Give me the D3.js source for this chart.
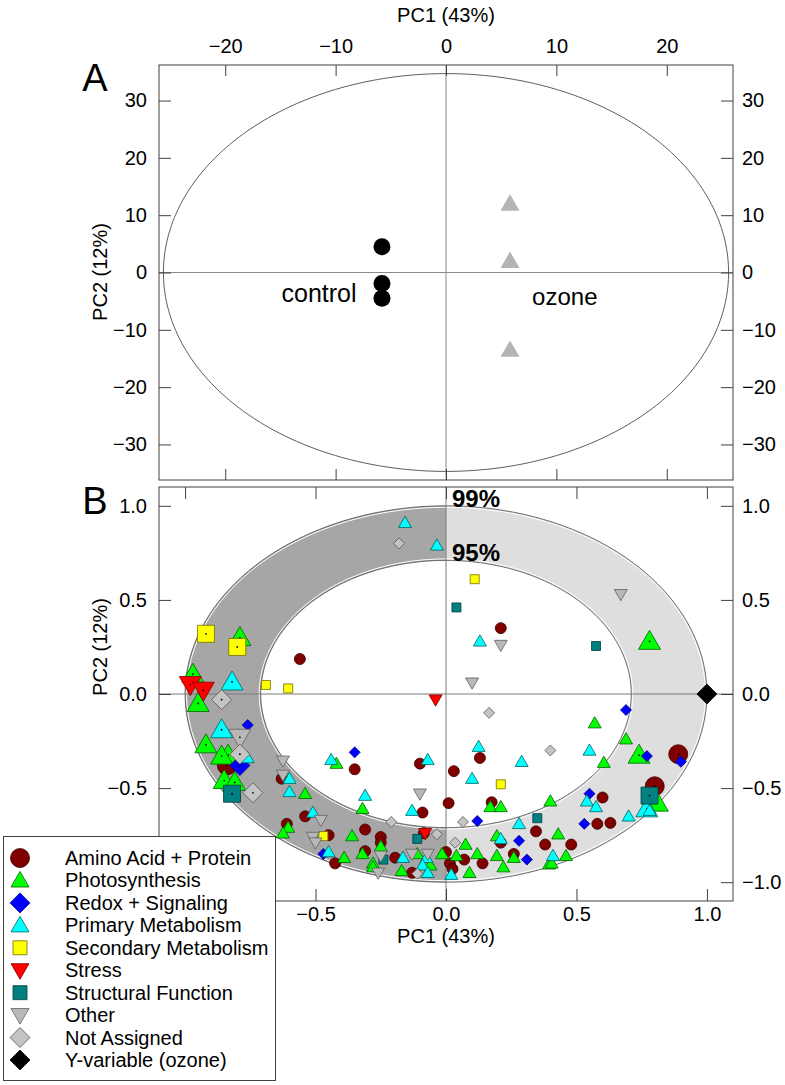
<!DOCTYPE html>
<html><head><meta charset="utf-8">
<script src="https://cdn.jsdelivr.net/npm/d3@7"></script>
<style>body{margin:0;background:#fff;} text{font-family:"Liberation Sans",Arial,sans-serif;fill:#000;}</style>
</head><body><svg id="c" width="785" height="1085"></svg>
<script>
// ---------- DATA ----------
const controlPC1 = [-5.8, -5.8, -5.8];
const controlPC2 = [4.5, -1.9, -4.5];
const ozonePC1 = [5.8, 5.8, 5.8];
const ozonePC2 = [12, 2, -13.5];
const scoreEllipseRadii = [25.6, 34.7];
const ticksAx = [-20, -10, 0, 10, 20];
const ticksAy = [-30, -20, -10, 0, 10, 20, 30];
const ticksB = [-1.0, -0.5, 0.0, 0.5, 1.0];
const confidenceRadii = [1.0, 0.71];
const confidenceLabels = ["99%", "95%"];
const categories = ["Amino Acid + Protein","Photosynthesis","Redox + Signaling","Primary Metabolism",
  "Secondary Metabolism","Stress","Structural Function","Other","Not Assigned","Y-variable (ozone)"];
// loadings [PC1, PC2, highlighted(1)/normal(0)]
const aminoAcid = [[-0.56,0.186,0],[0.21,0.35,0],[-0.84,-0.38,1],[-0.63,-0.45,0],[-0.35,-0.40,0],[-0.10,-0.37,0],
  [-0.09,-0.63,0],[0.01,-0.58,0],[-0.54,-0.65,0],[-0.61,-0.69,0],[-0.31,-0.72,0],[-0.45,-0.75,0],[-0.25,-0.76,0],
  [-0.25,-0.79,0],[-0.085,-0.74,0],[-0.425,-0.90,0],[-0.31,-0.835,0],[-0.195,-0.87,0],[-0.13,-0.95,0],[0.0,-0.84,0],
  [0.015,-0.90,0],[0.025,-0.93,0],[0.13,-0.34,0],[0.03,-0.41,0],[0.175,-0.575,0],[0.60,-0.55,0],[0.58,-0.69,0],
  [0.63,-0.685,0],[0.345,-0.73,0],[0.21,-0.79,0],[0.38,-0.80,0],[0.48,-0.80,0],[0.07,-0.88,0],[0.14,-0.90,0],
  [0.26,-0.85,0],[0.89,-0.32,1],[0.80,-0.49,1]];
const photosynthesis = [[-0.79,0.30,1],[-0.97,0.105,1],[-0.95,-0.05,1],[-0.92,-0.27,1],[-0.835,-0.325,1],[-0.86,-0.33,1],
  [-0.85,-0.46,1],[-0.81,-0.47,1],[-0.42,-0.37,0],[-0.54,-0.53,0],[-0.32,-0.61,0],[-0.605,-0.71,0],[-0.625,-0.74,0],
  [-0.36,-0.755,0],[-0.25,-0.81,0],[-0.39,-0.87,0],[-0.32,-0.85,0],[-0.28,-0.90,0],[-0.28,-0.92,0],[-0.17,-0.94,0],
  [-0.11,-0.85,0],[-0.06,-0.91,0],[-0.015,-0.85,0],[0.78,0.28,1],[0.57,-0.155,0],[0.69,-0.24,0],[0.74,-0.325,1],
  [0.605,-0.365,0],[0.17,-0.60,0],[0.21,-0.60,0],[0.40,-0.57,0],[0.81,-0.58,1],[0.43,-0.745,0],[0.195,-0.755,0],
  [0.075,-0.80,0],[0.04,-0.86,0],[0.12,-0.85,0],[0.195,-0.86,0],[0.26,-0.87,0],[0.46,-0.86,0],[0.395,-0.905,0],
  [0.405,-0.90,0],[0.22,-0.92,0],[0.09,-0.95,0]];
const redoxSignaling = [[-0.76,-0.165,0],[-0.79,-0.38,1],[-0.35,-0.31,0],[-0.47,-0.85,0],[0.69,-0.085,0],[0.77,-0.33,0],
  [0.90,-0.36,0],[0.12,-0.675,0],[0.55,-0.53,0],[0.53,-0.69,0],[0.28,-0.78,0],[0.31,-0.88,0]];
const primaryMetabolism = [[-0.157,0.91,0],[-0.035,0.79,0],[-0.82,0.064,1],[-0.86,-0.19,1],[-0.76,-0.34,0],[-0.60,-0.45,0],
  [-0.44,-0.35,0],[-0.07,-0.35,0],[-0.60,-0.52,0],[-0.31,-0.54,0],[-0.13,-0.62,0],[-0.51,-0.63,0],[-0.45,-0.84,0],
  [-0.165,-0.87,0],[-0.075,-0.87,0],[-0.09,-0.91,0],[-0.07,-0.95,0],[0.13,0.28,0],[0.55,-0.30,0],[0.125,-0.28,0],
  [0.29,-0.36,0],[0.10,-0.45,0],[0.77,-0.61,1],[0.78,-0.62,0],[0.54,-0.57,0],[0.575,-0.60,0],[0.70,-0.65,0],
  [0.28,-0.69,0],[0.21,-0.77,0],[0.41,-0.86,0],[0.02,-0.96,0]];
const secondaryMetabolism = [[-0.92,0.32,1],[-0.80,0.25,1],[-0.69,0.048,0],[-0.605,0.03,0],[0.11,0.61,0],[0.21,-0.48,0],[-0.47,-0.755,0]];
const stress = [[-0.98,0.05,1],[-0.93,0.02,1],[-0.04,-0.03,0],[-0.08,-0.74,0]];
const structuralFunction = [[0.04,0.46,0],[0.575,0.255,0],[-0.82,-0.53,1],[-0.11,-0.77,0],[-0.24,-0.88,0],[0.35,-0.66,0],[0.78,-0.54,1]];
const other = [[0.67,0.53,0],[0.21,0.26,0],[0.10,0.06,0],[-0.79,-0.23,1],[-0.625,-0.355,0],[-0.625,-0.43,0],[-0.10,-0.53,0],
  [-0.48,-0.67,0],[-0.51,-0.76,0],[-0.50,-0.79,0],[-0.25,-0.86,0],[-0.26,-0.95,0],[-0.13,-0.85,0],[-0.07,-0.85,0]];
const notAssigned = [[-0.18,0.80,0],[-0.86,-0.03,1],[-0.79,-0.32,1],[-0.74,-0.525,1],[-0.21,-0.68,0],[-0.035,-0.745,0],
  [-0.11,-0.955,0],[0.165,-0.10,0],[0.40,-0.30,0],[0.065,-0.68,0],[0.035,-0.79,0]];
const yVariable = [[1.0,0.0,1]];
const seriesData = [aminoAcid, photosynthesis, redoxSignaling, primaryMetabolism, secondaryMetabolism, stress,
  structuralFunction, other, notAssigned, yVariable];

// ---------- STYLES ----------
const styles = [
  {shape:"circle", fill:"#800000", stroke:"#3a0000"},
  {shape:"up", fill:"#00ff00", stroke:"#006000"},
  {shape:"diamond", fill:"#0000ff", stroke:"#000080"},
  {shape:"up", fill:"#00ffff", stroke:"#006060"},
  {shape:"square", fill:"#ffff00", stroke:"#707000"},
  {shape:"down", fill:"#ff0000", stroke:"#800000"},
  {shape:"square", fill:"#008080", stroke:"#003c3c"},
  {shape:"down", fill:"#b8b8b8", stroke:"#606060"},
  {shape:"diamond", fill:"#c4c4c4", stroke:"#555555"},
  {shape:"diamond", fill:"#000000", stroke:"#000000"}
];
const sizes = {circle:[5.5,9.5], up:[6.5,11], down:[6.5,11], square:[4.5,8.5], diamond:[5.5,10]};
const legendSizes = {circle:9.5, up:9, down:9, square:7, diamond:10};
function shapePath(t, s){
  if(t==="circle") return `M${s},0A${s},${s} 0 1,1 ${-s},0A${s},${s} 0 1,1 ${s},0Z`;
  if(t==="up") return `M0,${-s}L${s},${0.73*s}L${-s},${0.73*s}Z`;
  if(t==="down") return `M0,${s}L${s},${-0.73*s}L${-s},${-0.73*s}Z`;
  if(t==="square") return `M${-s},${-s}H${s}V${s}H${-s}Z`;
  return `M0,${-s}L${s},0L0,${s}L${-s},0Z`;
}
const FONT = '"Liberation Sans", Arial, sans-serif';
const svg = d3.select("#c");
const L = 159, R = 733;

// ---------- PANEL A ----------
const xA = d3.scaleLinear().domain([-26, 26]).range([L, R]);
const yA = d3.scaleLinear().domain([-36.2, 36.2]).range([480, 65]);
const gA = svg.append("g");
gA.append("line").attr("x1",xA(0)).attr("x2",xA(0)).attr("y1",65).attr("y2",480).attr("stroke","#8a8a8a");
gA.append("line").attr("x1",L).attr("x2",R).attr("y1",yA(0)).attr("y2",yA(0)).attr("stroke","#8a8a8a");
const angles = d3.range(0, 2*Math.PI + 0.001, Math.PI/180);
gA.append("path").attr("d", d3.line()(angles.map(a => [xA(scoreEllipseRadii[0]*Math.cos(a)), yA(scoreEllipseRadii[1]*Math.sin(a))])))
  .attr("fill","none").attr("stroke","#333").attr("stroke-width",0.8);
gA.selectAll(".ctl").data(controlPC1.map((v,i)=>[v,controlPC2[i]])).join("circle")
  .attr("cx",d=>xA(d[0])).attr("cy",d=>yA(d[1])).attr("r",8.5).attr("fill","#000");
gA.selectAll(".oz").data(ozonePC1.map((v,i)=>[v,ozonePC2[i]])).join("path")
  .attr("transform",d=>`translate(${xA(d[0])},${yA(d[1])})`).attr("d",shapePath("up",9.5)).attr("fill","#b4b4b4");
gA.append("text").attr("x",xA(-8.1)).attr("y",yA(-5.2)).attr("text-anchor","end").attr("font-size",25).text("control");
gA.append("text").attr("x",xA(7.8)).attr("y",yA(-5.6)).attr("text-anchor","start").attr("font-size",24).text("ozone");

function styleAxis(g, labels){
  g.select(".domain").remove();
  g.selectAll(".tick line").attr("stroke","#404040");
  g.selectAll("text").attr("font-size",20).attr("font-family",FONT).attr("fill","#000");
  if(!labels) g.selectAll("text").remove();
}
svg.append("g").attr("transform","translate(0,65)").call(d3.axisTop(xA).tickValues(ticksAx).tickSize(-11).tickPadding(12).tickFormat(d3.format("d"))).call(g=>styleAxis(g,true));
svg.append("g").attr("transform","translate(0,480)").call(d3.axisBottom(xA).tickValues(ticksAx).tickSize(-11)).call(g=>styleAxis(g,false));
svg.append("g").attr("transform",`translate(${L},0)`).call(d3.axisLeft(yA).tickValues(ticksAy).tickSize(-12).tickPadding(12).tickFormat(d3.format("d"))).call(g=>styleAxis(g,true));
svg.append("g").attr("transform",`translate(${R},0)`).call(d3.axisRight(yA).tickValues(ticksAy).tickSize(-12).tickPadding(9).tickFormat(d3.format("d"))).call(g=>styleAxis(g,true));
svg.append("rect").attr("x",L).attr("y",65).attr("width",R-L).attr("height",415).attr("fill","none").attr("stroke","#404040");
svg.append("text").attr("x",95).attr("y",91).attr("font-size",38).attr("text-anchor","middle").text("A");

// ---------- PANEL B ----------
const xB = d3.scaleLinear().domain([-1.1, 1.1]).range([L, R]);
const yB = d3.scaleLinear().domain([-1.1, 1.1]).range([901, 487]);
const gB = svg.append("g");
function halfBand(side){
  const ro = confidenceRadii[0], ri = confidenceRadii[1];
  const a0 = side<0 ? Math.PI/2 : -Math.PI/2;
  const outer = d3.range(0, 181).map(k => { const a = a0 + k*Math.PI/180; return [xB(ro*Math.cos(a)), yB(ro*Math.sin(a))]; });
  const inner = d3.range(180, -1, -1).map(k => { const a = a0 + k*Math.PI/180; return [xB(ri*Math.cos(a)), yB(ri*Math.sin(a))]; });
  return d3.line()(outer.concat(inner)) + "Z";
}
gB.append("path").attr("d",halfBand(-1)).attr("fill","#a6a6a6");
gB.append("path").attr("d",halfBand(1)).attr("fill","#dedede");
function ellipsePath(r, dpx){
  return d3.line()(angles.map(a => [xB(r*Math.cos(a)) + dpx*Math.cos(a), yB(r*Math.sin(a)) - dpx*Math.sin(a)]));
}
gB.append("path").attr("d",ellipsePath(confidenceRadii[0],-1.5)).attr("fill","none").attr("stroke","#fff").attr("stroke-width",1);
gB.append("path").attr("d",ellipsePath(confidenceRadii[1],1.5)).attr("fill","none").attr("stroke","#fff").attr("stroke-width",1);
confidenceRadii.forEach(r => gB.append("path").attr("d",ellipsePath(r,0)).attr("fill","none").attr("stroke","#4a4a4a").attr("stroke-width",0.8));
gB.append("line").attr("x1",xB(0)).attr("x2",xB(0)).attr("y1",487).attr("y2",901).attr("stroke","#7a7a7a");
gB.append("line").attr("x1",L).attr("x2",R).attr("y1",yB(0)).attr("y2",yB(0)).attr("stroke","#7a7a7a");
confidenceLabels.forEach((lab,i) => gB.append("text").attr("x",xB(0.023)).attr("y",yB(confidenceRadii[i])+1)
  .attr("font-size",24).attr("font-weight","bold").text(lab));

seriesData.forEach((arr, ci) => {
  const st = styles[ci];
  const g = gB.append("g");
  const sel = g.selectAll("g").data(arr).join("g").attr("transform", d => `translate(${xB(d[0])},${yB(d[1])})`);
  sel.append("path").attr("d", d => shapePath(st.shape, sizes[st.shape][d[2]]))
    .attr("fill", st.fill).attr("stroke", st.stroke).attr("stroke-width", 0.8);
  sel.filter(d => d[2] === 1 && ci !== 9).append("circle").attr("r",0.9).attr("fill","#000");
});

// labels hidden behind the legend box in the original are not drawn
const hiddenByLegend = g => g.selectAll(".tick").filter(d => d === -1).select("text").remove();
svg.append("g").attr("transform","translate(0,487)").call(d3.axisTop(xB).tickValues(ticksB).tickSize(-12)).call(g=>styleAxis(g,false));
svg.append("g").attr("transform","translate(0,901)").call(d3.axisBottom(xB).tickValues(ticksB).tickSize(-12).tickPadding(6).tickFormat(d3.format(".1f"))).call(g=>styleAxis(g,true)).call(hiddenByLegend);
svg.append("g").attr("transform",`translate(${L},0)`).call(d3.axisLeft(yB).tickValues(ticksB).tickSize(-12).tickPadding(12).tickFormat(d3.format(".1f"))).call(g=>styleAxis(g,true)).call(hiddenByLegend);
svg.append("g").attr("transform",`translate(${R},0)`).call(d3.axisRight(yB).tickValues(ticksB).tickSize(-12).tickPadding(9).tickFormat(d3.format(".1f"))).call(g=>styleAxis(g,true));
svg.append("rect").attr("x",L).attr("y",487).attr("width",R-L).attr("height",414).attr("fill","none").attr("stroke","#404040");
svg.append("text").attr("x",95).attr("y",514).attr("font-size",38).attr("text-anchor","middle").text("B");

// ---------- AXIS TITLES ----------
svg.append("text").attr("x",446).attr("y",22).attr("text-anchor","middle").attr("font-size",20).text("PC1 (43%)");
svg.append("text").attr("x",446).attr("y",943).attr("text-anchor","middle").attr("font-size",20).text("PC1 (43%)");
svg.append("text").attr("transform","translate(107,272) rotate(-90)").attr("text-anchor","middle").attr("font-size",20).text("PC2 (12%)");
svg.append("text").attr("transform","translate(107,647) rotate(-90)").attr("text-anchor","middle").attr("font-size",20).text("PC2 (12%)");

// ---------- LEGEND ----------
const lg = svg.append("g");
lg.append("rect").attr("x",3.5).attr("y",836.5).attr("width",272).attr("height",244).attr("fill","#fff").attr("stroke","#404040");
const rowY = d3.scaleLinear().domain([0, categories.length-1]).range([858, 1060]);
categories.forEach((c,i) => {
  const st = styles[i];
  lg.append("path").attr("transform",`translate(20,${rowY(i)})`).attr("d",shapePath(st.shape, legendSizes[st.shape]))
    .attr("fill",st.fill).attr("stroke",st.stroke).attr("stroke-width",0.8);
  lg.append("text").attr("x",65).attr("y",rowY(i)+7).attr("font-size",20).text(c);
});
</script></body></html>
